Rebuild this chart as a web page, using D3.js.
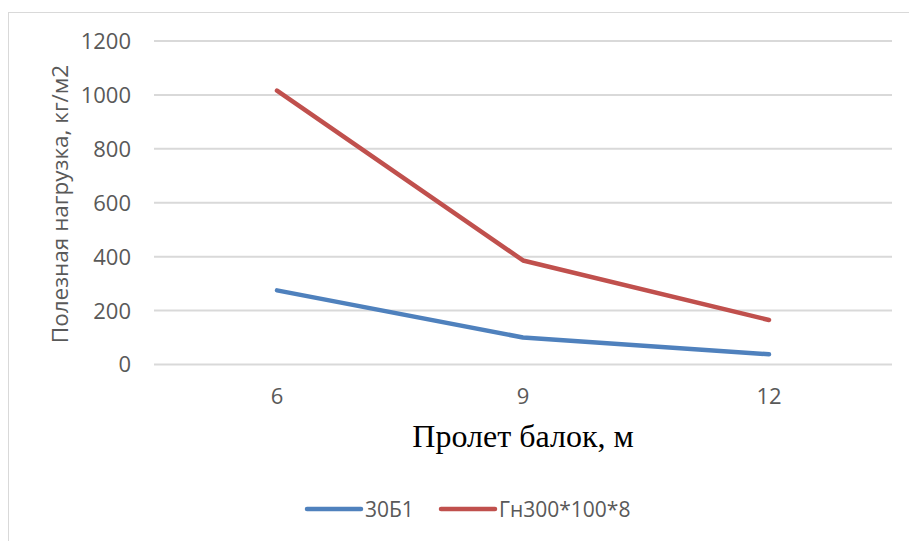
<!DOCTYPE html>
<html>
<head>
<meta charset="utf-8"/>
<script src="https://cdn.jsdelivr.net/npm/d3@7"></script>
<style>
html, body {
  margin: 0;
  padding: 0;
  background: #fff;
}
svg text {
  font-family: "Open Sans", "Noto Sans", sans-serif;
}
.grid line {
  stroke: #d9d9d9;
  stroke-width: 2;
}
.tick-label {
  fill: #595959;
  font-size: 22px;
}
.legend-label {
  fill: #595959;
  font-size: 21px;
}
</style>
</head>
<body>
<svg id="chart" width="909" height="541"></svg>

<script>
// data
var spans = ["6", "9", "12"];
var series1Name = "30Б1";
var series1 = [275, 100, 38];
var series2Name = "Гн300*100*8";
var series2 = [1016, 386, 165];
var yTicks = [0, 200, 400, 600, 800, 1000, 1200];
var yTitle = "Полезная нагрузка, кг/м2";
var xTitle = "Пролет балок, м";

var svg = d3.select("#chart");

// chart frame
svg.append("rect")
    .attr("x", 8.5).attr("y", 12.5)
    .attr("width", 920).attr("height", 560)
    .attr("fill", "#fff")
    .attr("stroke", "#d9d9d9")
    .attr("stroke-width", 1);

var plot = {left: 154, right: 892, top: 41, bottom: 364.5};

var x = d3.scaleBand()
    .domain(spans)
    .range([plot.left, plot.right]);

var y = d3.scaleLinear()
    .domain([0, 1200])
    .range([plot.bottom, plot.top]);

// gridlines
svg.append("g")
    .attr("class", "grid")
  .selectAll("line")
    .data(yTicks)
  .enter().append("line")
    .attr("x1", plot.left).attr("x2", plot.right)
    .attr("y1", function(d) { return y(d); })
    .attr("y2", function(d) { return y(d); });

// y tick labels
svg.append("g")
  .selectAll("text")
    .data(yTicks)
  .enter().append("text")
    .attr("class", "tick-label")
    .attr("x", 131)
    .attr("y", function(d) { return y(d); })
    .attr("dy", "0.36em")
    .attr("text-anchor", "end")
    .text(function(d) { return d; });

// x tick labels
svg.append("g")
  .selectAll("text")
    .data(spans)
  .enter().append("text")
    .attr("class", "tick-label")
    .attr("x", function(d) { return x(d) + x.bandwidth() / 2; })
    .attr("y", 404)
    .attr("text-anchor", "middle")
    .text(function(d) { return d; });

// lines
var line = d3.line()
    .x(function(d, i) { return x(spans[i]) + x.bandwidth() / 2; })
    .y(function(d) { return y(d); });

[[series1, "#4f81bd"], [series2, "#c0504d"]].forEach(function(s) {
  svg.append("path")
      .datum(s[0])
      .attr("fill", "none")
      .attr("stroke", s[1])
      .attr("stroke-width", 4.5)
      .attr("stroke-linejoin", "round")
      .attr("stroke-linecap", "round")
      .attr("d", line);
});

// axis titles
svg.append("text")
    .attr("transform", "translate(68,204) rotate(-90)")
    .attr("text-anchor", "middle")
    .attr("fill", "#595959")
    .style("font-size", "22.5px")
    .text(yTitle);

svg.append("text")
    .attr("x", 523)
    .attr("y", 447)
    .attr("text-anchor", "middle")
    .attr("fill", "#000")
    .style("font-family", "'Liberation Serif', 'DejaVu Serif', serif")
    .style("font-size", "32px")
    .text(xTitle);

// legend
var legend = [
  {name: series1Name, color: "#4f81bd", x: 307},
  {name: series2Name, color: "#c0504d", x: 441}
];
var lg = svg.append("g").selectAll("g")
    .data(legend)
  .enter().append("g");
lg.append("line")
    .attr("x1", function(d) { return d.x; })
    .attr("x2", function(d) { return d.x + 54; })
    .attr("y1", 509).attr("y2", 509)
    .attr("stroke", function(d) { return d.color; })
    .attr("stroke-width", 4.5)
    .attr("stroke-linecap", "round");
lg.append("text")
    .attr("class", "legend-label")
    .attr("x", function(d) { return d.x + 58; })
    .attr("y", 517)
    .text(function(d) { return d.name; });
</script>
</body>
</html>
